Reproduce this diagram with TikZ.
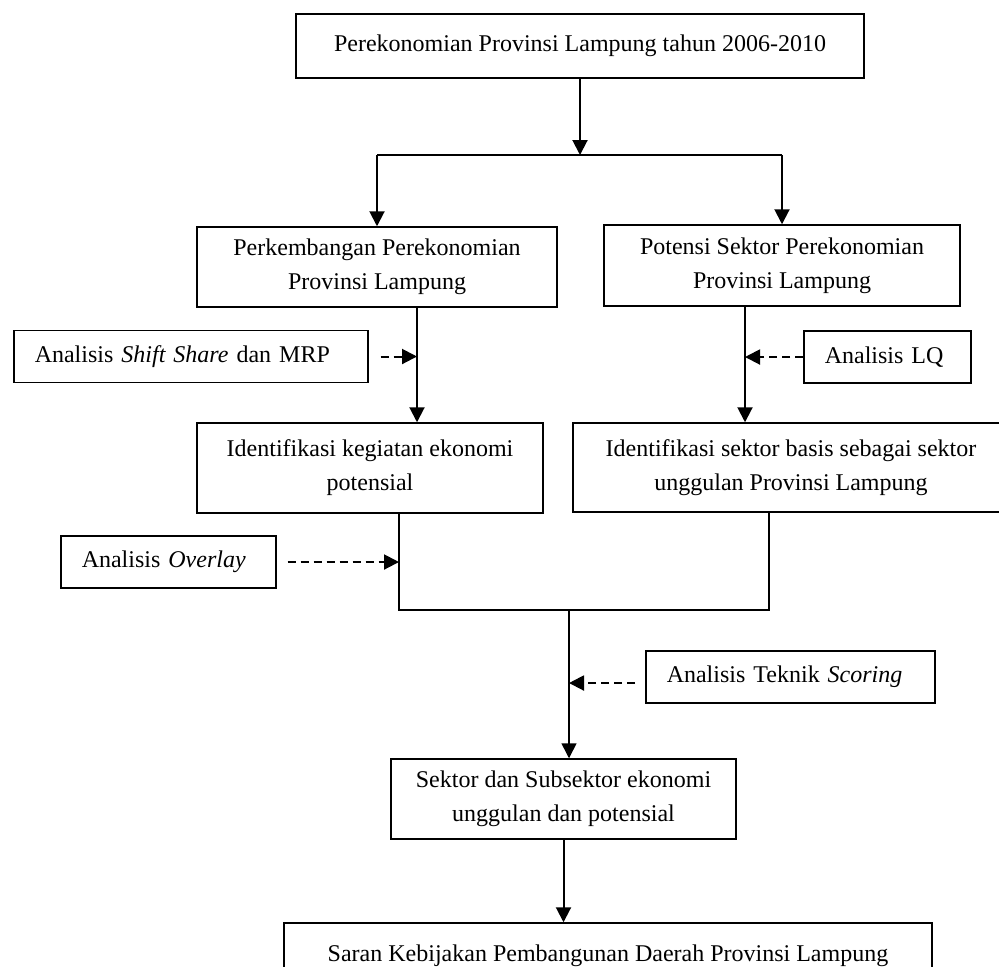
\documentclass[tikz,border=0pt]{standalone}
\usepackage{fontspec}
\setmainfont{Liberation Serif}
\usetikzlibrary{arrows.meta}
\begin{document}
\begin{tikzpicture}[x=0.5pt, y=-0.5pt,
        kotak/.style={draw, line width=0.75pt, align=center, inner sep=0pt, font=\fontsize{12}{17}\selectfont},
        analisis/.style={kotak, anchor=west, align=left, inner xsep=10.5pt, minimum height=26pt},
        panah/.style={line width=1pt, -{Triangle[length=7.5pt,width=7.5pt]}},
        garis/.style={line width=1pt},
        putus/.style={panah, dash pattern=on 4pt off 2.5pt}]
        \clip (0,0) rectangle (999,966);
        \node[kotak, minimum width=284pt, minimum height=32pt] (awal) at (580,46) {Perekonomian Provinsi Lampung tahun 2006-2010};
        \node[kotak, minimum width=180pt, minimum height=40pt] (perk) at (377,267) {Perkembangan Perekonomian\\Provinsi Lampung};
        \node[kotak, minimum width=178pt, minimum height=40.5pt] (potensi) at (782,265.5) {Potensi Sektor Perekonomian\\Provinsi Lampung};
        \node[analisis, text width=156pt] (shift) at (13,356.5) {Analisis \textit{Shift Share} dan MRP};
        \node[analisis, text width=62.5pt] (lq) at (803,357) {Analisis LQ};
        \node[kotak, minimum width=173pt, minimum height=45pt] (idkeg) at (370,468) {Identifikasi kegiatan ekonomi\\potensial};
        \node[kotak, minimum width=218pt, minimum height=44.5pt] (idsek) at (791,467.5) {Identifikasi sektor basis sebagai sektor\\unggulan Provinsi Lampung};
        \node[analisis, text width=86.5pt] (overlay) at (60,562) {Analisis \textit{Overlay}};
        \node[analisis, text width=123.5pt] (scoring) at (645,677) {Analisis Teknik \textit{Scoring}};
        \node[kotak, minimum width=172.5pt, minimum height=40pt] (sektor) at (563.5,799) {Sektor dan Subsektor ekonomi\\unggulan dan potensial};
        \node[kotak, minimum width=324pt, minimum height=33pt] (saran) at (608,956) {Saran Kebijakan Pembangunan Daerah Provinsi Lampung};
        \coordinate (cabang) at (580,155);
        \coordinate (kiri) at (417,0);
        \coordinate (kanan) at (745,0);
        \coordinate (gkiri) at (399,610);
        \coordinate (gkanan) at (769,610);
        \coordinate (gabung) at (569,610);
        \coordinate (skor) at ([yshift=-3pt]scoring.west);
        \draw[panah] (awal) -- (cabang);
        \draw[garis] (perk.north |- cabang) -- (potensi.north |- cabang);
        \draw[panah] (perk.north |- cabang) -- (perk);
        \draw[panah] (potensi.north |- cabang) -- (potensi);
        \draw[panah] (kiri |- perk.south) -- (kiri |- idkeg.north);
        \draw[putus, shorten <=6pt] (shift) -- (kiri |- shift);
        \draw[panah] (kanan |- potensi.south) -- (kanan |- idsek.north);
        \draw[putus] (lq) -- (kanan |- lq);
        \draw[garis] (gkiri |- idkeg.south) -- (gkiri) -- (gkanan) -- (gkanan |- idsek.south);
        \draw[putus, shorten <=5.5pt] (overlay) -- (gkiri |- overlay);
        \draw[panah, line width=0.75pt] (gabung) -- (gabung |- sektor.north);
        \draw[putus, shorten <=5pt] (skor) -- (gabung |- skor);
        \draw[panah] (sektor) -- (sektor |- saran.north);
\end{tikzpicture}
\end{document}
